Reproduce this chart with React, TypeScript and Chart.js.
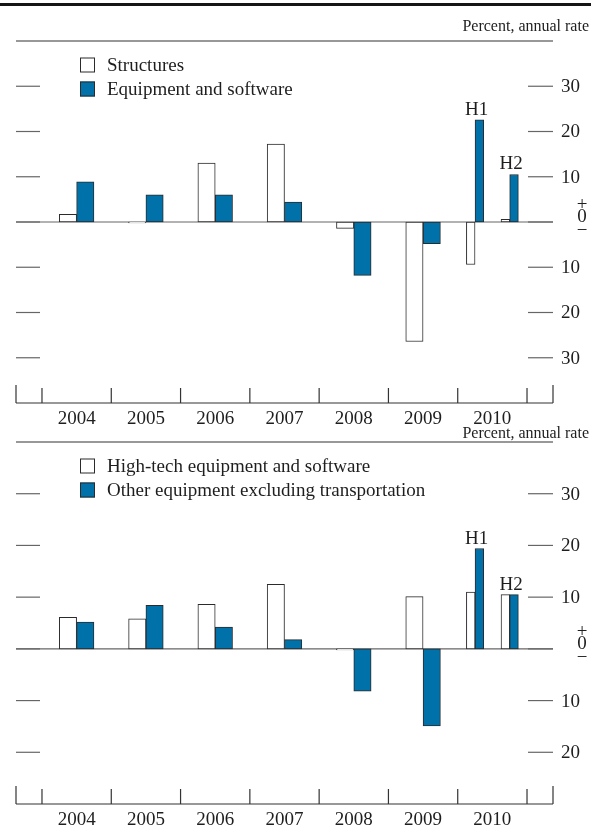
import { useEffect, useRef } from 'react';
import { Chart, registerables } from 'chart.js';

Chart.register(...registerables);

// ---------- data ----------
const YEARS = [2004, 2005, 2006, 2007, 2008, 2009, 2010];
const ANNUAL_YEARS = [2004, 2005, 2006, 2007, 2008, 2009];
const HALF_YEAR = 2010;
const HALF_LABELS = ['H1', 'H2'];
const UNIT_LABEL = 'Percent, annual rate';

const TOP_NAMES = ['Structures', 'Equipment and software'];
const STRUCTURES_ANNUAL = [1.7, -0.2, 13.0, 17.2, -1.4, -26.4];
const STRUCTURES_HALF = [-9.4, 0.6];
const EQUIPMENT_ANNUAL = [8.9, 6.0, 6.0, 4.4, -11.8, -4.8];
const EQUIPMENT_HALF = [22.6, 10.5];
const TOP_Y_TICKS = [30, 20, 10, 0, -10, -20, -30];

const BOTTOM_NAMES = ['High-tech equipment and software', 'Other equipment excluding transportation'];
const HIGHTECH_ANNUAL = [6.1, 5.8, 8.6, 12.5, -0.2, 10.1];
const HIGHTECH_HALF = [11.0, 10.5];
const OTHER_ANNUAL = [5.2, 8.4, 4.2, 1.8, -8.2, -14.9];
const OTHER_HALF = [19.4, 10.5];
const BOTTOM_Y_TICKS = [30, 20, 10, 0, -10, -20];

// ---------- styles ----------
const W = 591;
const H = 833;
const BLUE = '#0072a9';
const WHITE = '#ffffff';
const EDGE = '#2b2b2b';
const TEXT = '#1e1e1e';
const FONT = '"Liberation Serif", "Times New Roman", serif';

type Panel = {
  names: string[];
  aAnnual: number[];
  aHalf: number[];
  bAnnual: number[];
  bHalf: number[];
  yMin: number;
  yMax: number;
  yTicks: number[];
  padTop: number;
  padBottom: number;
  headerGap: number;
  thickRule: boolean;
};

const TOP_PANEL: Panel = {
  names: TOP_NAMES,
  aAnnual: STRUCTURES_ANNUAL,
  aHalf: STRUCTURES_HALF,
  bAnnual: EQUIPMENT_ANNUAL,
  bHalf: EQUIPMENT_HALF,
  yMin: -40,
  yMax: 40,
  yTicks: TOP_Y_TICKS,
  padTop: 41,
  padBottom: H - 403,
  headerGap: 14,
  thickRule: true,
};

const BOTTOM_PANEL: Panel = {
  names: BOTTOM_NAMES,
  aAnnual: HIGHTECH_ANNUAL,
  aHalf: HIGHTECH_HALF,
  bAnnual: OTHER_ANNUAL,
  bHalf: OTHER_HALF,
  yMin: -30,
  yMax: 40,
  yTicks: BOTTOM_Y_TICKS,
  padTop: 442,
  padBottom: H - 804,
  headerGap: 8,
  thickRule: false,
};

function makeDecor(p: Panel) {
  const line = (ctx: CanvasRenderingContext2D, x1: number, y1: number, x2: number, y2: number) => {
    ctx.beginPath();
    ctx.moveTo(x1, y1);
    ctx.lineTo(x2, y2);
    ctx.stroke();
  };
  return {
    id: 'decor',
    beforeDatasetsDraw(chart: any) {
      const ctx: CanvasRenderingContext2D = chart.ctx;
      const { left, right, top, bottom } = chart.chartArea;
      const ys = chart.scales.y;
      const xs = chart.scales.x;
      ctx.save();
      if (p.thickRule) {
        ctx.fillStyle = '#151515';
        ctx.fillRect(0, 3, chart.width, 3);
      }
      // top border of the panel
      ctx.strokeStyle = '#333';
      ctx.lineWidth = 1.2;
      line(ctx, left, top, right, top);
      // y tick stubs
      ctx.strokeStyle = '#666';
      ctx.lineWidth = 1.2;
      p.yTicks.forEach((v) => {
        const py = ys.getPixelForValue(v);
        line(ctx, left, py, left + 24, py);
        line(ctx, right - 25, py, right, py);
      });
      // zero line
      const z = ys.getPixelForValue(0);
      ctx.strokeStyle = '#666';
      line(ctx, left, z, right, z);
      // x axis
      ctx.strokeStyle = '#333';
      ctx.lineWidth = 1.2;
      line(ctx, left, bottom, right, bottom);
      line(ctx, left, bottom - 18, left, bottom);
      line(ctx, right, bottom - 18, right, bottom);
      for (let yr = YEARS[0]; yr <= YEARS[YEARS.length - 1] + 1; yr++) {
        const px = xs.getPixelForValue(yr);
        line(ctx, px, bottom - 15, px, bottom);
      }
      ctx.restore();
    },
    afterDatasetsDraw(chart: any) {
      const ctx: CanvasRenderingContext2D = chart.ctx;
      const { left, right, top, bottom } = chart.chartArea;
      const ys = chart.scales.y;
      const xs = chart.scales.x;
      ctx.save();
      ctx.fillStyle = TEXT;
      // header
      ctx.font = `16px ${FONT}`;
      ctx.textAlign = 'right';
      ctx.textBaseline = 'middle';
      ctx.fillText(UNIT_LABEL, chart.width - 2, top - p.headerGap);
      // y labels on the right
      ctx.font = `19px ${FONT}`;
      p.yTicks.forEach((v) => {
        const py = ys.getPixelForValue(v);
        if (v === 0) {
          ctx.textAlign = 'center';
          ctx.fillText('+', right + 29, py - 17);
          ctx.fillText('0', right + 29, py - 5);
          ctx.fillText('\u2212', right + 29, py + 9);
        } else {
          ctx.textAlign = 'left';
          ctx.fillText(String(Math.abs(v)), right + 8, py + 1);
        }
      });
      // year labels
      ctx.textAlign = 'center';
      ctx.textBaseline = 'middle';
      YEARS.forEach((yr) => {
        ctx.fillText(String(yr), xs.getPixelForValue(yr + 0.5), bottom + 16);
      });
      // half-year labels
      ctx.textBaseline = 'alphabetic';
      HALF_LABELS.forEach((lab, i) => {
        const hx = HALF_YEAR + 0.25 + 0.5 * i;
        const topVal = Math.max(0, p.aHalf[i], p.bHalf[i]);
        ctx.fillText(lab, xs.getPixelForValue(hx) + 1.5, ys.getPixelForValue(topVal) - 5);
      });
      // legend
      const fills = [WHITE, BLUE];
      p.names.forEach((name, i) => {
        const cy = top + 24 + 24 * i;
        ctx.fillStyle = fills[i];
        ctx.fillRect(left + 64, cy - 7.5, 15, 15);
        ctx.strokeStyle = EDGE;
        ctx.lineWidth = 1;
        ctx.strokeRect(left + 64.5, cy - 7, 14, 14);
        ctx.fillStyle = TEXT;
        ctx.textAlign = 'left';
        ctx.textBaseline = 'middle';
        ctx.fillText(name, left + 91, cy + 1);
      });
      ctx.restore();
    },
  };
}

function buildConfig(p: Panel): any {
  const annualX = ANNUAL_YEARS.map((y) => y + 0.5);
  const halfX = HALF_LABELS.map((_, i) => HALF_YEAR + 0.25 + 0.5 * i);
  const pts = (xsArr: number[], vals: number[]) => vals.map((v, i) => ({ x: xsArr[i], y: v }));
  const common = {
    borderColor: EDGE,
    borderWidth: 1,
    borderSkipped: false,
    barThickness: 'flex',
    categoryPercentage: 0.5,
    barPercentage: 1,
  };
  return {
    type: 'bar',
    data: {
      datasets: [
        { label: p.names[0], data: pts(annualX, p.aAnnual), backgroundColor: WHITE, stack: 'a', ...common },
        { label: p.names[1], data: pts(annualX, p.bAnnual), backgroundColor: BLUE, stack: 'b', ...common },
        { label: p.names[0], data: pts(halfX, p.aHalf), backgroundColor: WHITE, stack: 'a', ...common },
        { label: p.names[1], data: pts(halfX, p.bHalf), backgroundColor: BLUE, stack: 'b', ...common },
      ],
    },
    options: {
      responsive: false,
      animation: false,
      events: [],
      layout: { padding: { left: 16, right: W - 553, top: p.padTop, bottom: p.padBottom } },
      plugins: { legend: { display: false }, tooltip: { enabled: false }, title: { display: false } },
      scales: {
        x: {
          type: 'linear',
          display: false,
          offset: false,
          min: YEARS[0] - 0.375,
          max: YEARS[YEARS.length - 1] + 1.375,
        },
        y: { type: 'linear', display: false, min: p.yMin, max: p.yMax, stacked: false },
      },
    },
    plugins: [makeDecor(p)],
  };
}

export default function App() {
  const topRef = useRef<HTMLCanvasElement>(null);
  const botRef = useRef<HTMLCanvasElement>(null);
  useEffect(() => {
    const c1 = new Chart(topRef.current as HTMLCanvasElement, buildConfig(TOP_PANEL));
    const c2 = new Chart(botRef.current as HTMLCanvasElement, buildConfig(BOTTOM_PANEL));
    return () => {
      c1.destroy();
      c2.destroy();
    };
  }, []);
  const cs: any = { position: 'absolute', left: 0, top: 0, width: W, height: H };
  return (
    <div style={{ position: 'absolute', left: 0, top: 0, width: W, height: H, background: '#fff' }}>
      <canvas ref={topRef} width={W} height={H} style={cs} />
      <canvas ref={botRef} width={W} height={H} style={cs} />
    </div>
  );
}
